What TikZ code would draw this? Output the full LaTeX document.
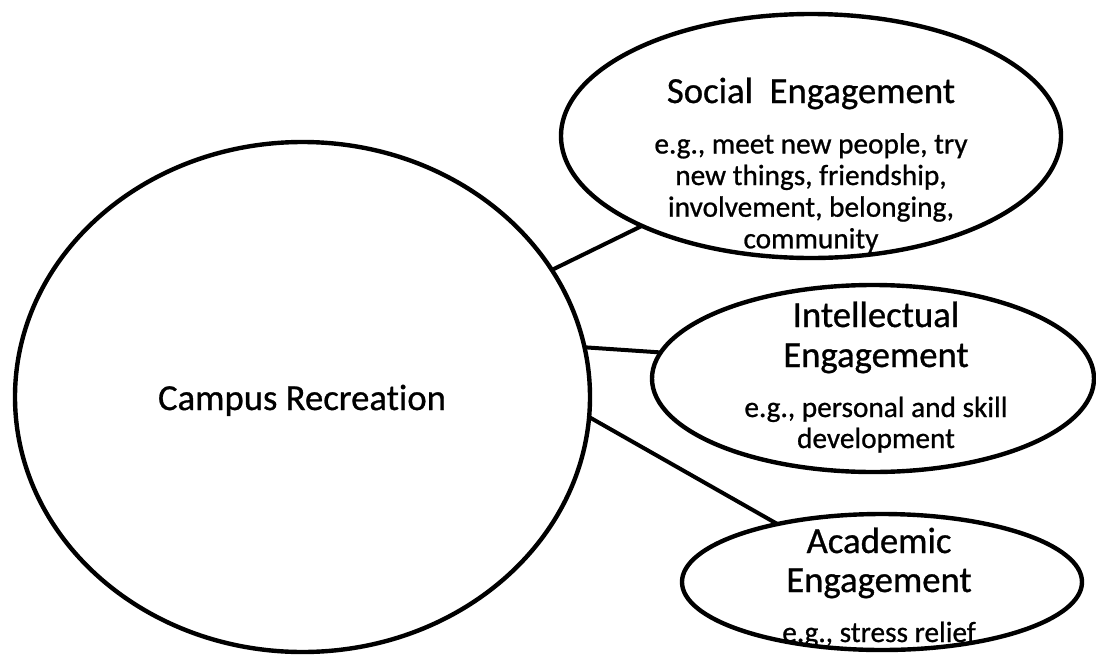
\documentclass[tikz,border=0pt]{standalone}
\usepackage{fontspec}
\setmainfont[FakeBold=0.8,Ligatures=NoCommon]{Carlito}
\usetikzlibrary{shapes.geometric}
\begin{document}
\begin{tikzpicture}[x=1pt,y=-1pt,
  bubble/.style={draw=black, line width=4.4pt, ellipse, inner sep=0pt, outer sep=0pt},
  link/.style={draw=black, line width=4pt},
  head/.style={font=\fontsize{36.7}{40}\selectfont, anchor=base, inner sep=0pt},
  body/.style={font=\fontsize{29.3}{31.5}\selectfont, anchor=base, inner sep=0pt}]
\useasboundingbox (0,0) rectangle (1096,654);

% bubbles
\node[bubble, minimum width=575pt, minimum height=510pt] (campus) at (302.5,397) {};
\node[bubble, minimum width=500pt, minimum height=244pt] (social) at (811,136) {};
\node[bubble, minimum width=442pt, minimum height=187pt] (intel) at (873,378.5) {};
\node[bubble, minimum width=400pt, minimum height=136pt] (acad) at (882,582) {};

% connectors
\draw[link] (campus.27) -- (social.208);
\draw[link] (campus.10) -- (intel.173);
\draw[link] (campus.356) -- (acad.151);

% labels
\node[head] (camp) at (302,410) {Campus Recreation};

\node[head] (soc0) at (811,103) {Social\ \ Engagement};
\node[body] (soc1) at (811,153.5) {e.g., meet new people, try};
\node[body] (soc2) at (811,185) {new things, friendship,};
\node[body] (soc3) at (811,216.7) {involvement, belonging,};
\node[body] (soc4) at (811,248.3) {community};

\node[head] (int0) at (876,327) {Intellectual};
\node[head] (int1) at (876,367) {Engagement};
\node[body] (int2) at (876,417) {e.g., personal and skill};
\node[body] (int3) at (876,448) {development};

\node[head] (aca0) at (879,553) {Academic};
\node[head] (aca1) at (879,592) {Engagement};
\node[body] (aca2) at (879,642) {e.g., stress relief};
\end{tikzpicture}
\end{document}
